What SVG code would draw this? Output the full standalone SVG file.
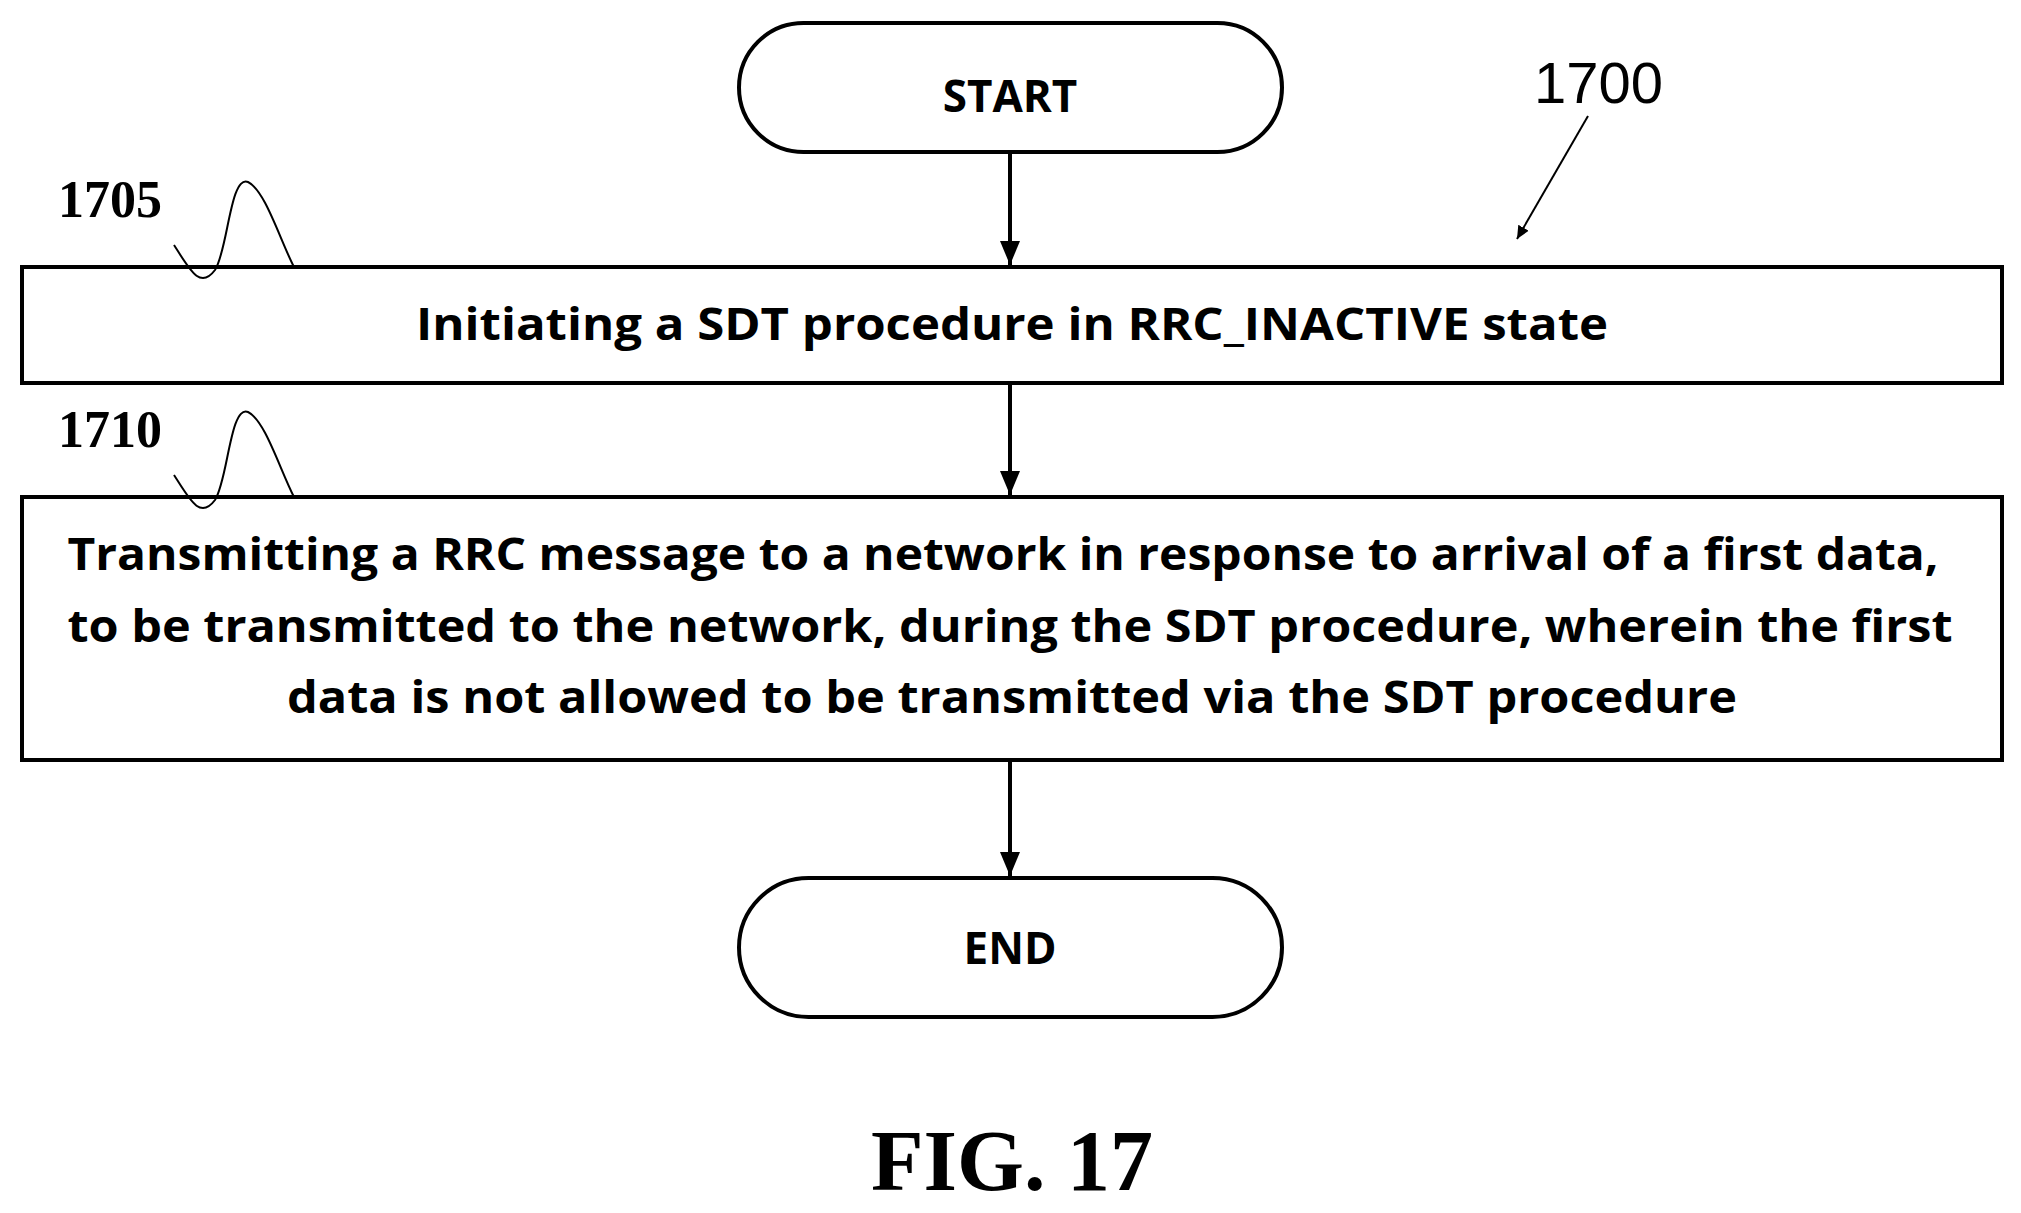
<svg xmlns="http://www.w3.org/2000/svg" width="2021" height="1213" viewBox="0 0 2021 1213">
<style>
.s{fill:none;stroke:#000;stroke-width:4}
.t{font-family:"Open Sans","Liberation Sans",sans-serif;font-weight:bold;font-size:44px;text-anchor:middle}
.r{font-family:"Liberation Serif",serif;font-weight:bold;font-size:52px}
.f{font-family:"Liberation Serif",serif;font-weight:bold;font-size:86px;text-anchor:middle}
.w{fill:none;stroke:#000;stroke-width:2}
</style>
<defs>
<marker id="b" markerWidth="14" markerHeight="14" refX="13" refY="7" orient="auto" markerUnits="userSpaceOnUse"><path d="M0,1 L13,7 L0,13 z"/></marker>
<marker id="c" markerWidth="26" markerHeight="22" refX="24" refY="11" orient="auto" markerUnits="userSpaceOnUse"><path d="M0,1 L24,11 L0,21 z"/></marker></defs>
<rect width="2021" height="1213" fill="#fff"/>
<g id="start"><rect class="s" x="739" y="23" width="543" height="129" rx="64.5"/><text class="t" x="1010" y="112">START</text></g>
<g id="n1705"><rect class="s" x="22" y="267" width="1980" height="116"/><text class="t" x="1012" y="340" textLength="1192" lengthAdjust="spacingAndGlyphs">Initiating a SDT procedure in RRC_INACTIVE state</text>
<text class="r" x="58" y="217">1705</text><path class="w" d="M174,245 C190,270 200,290 215,270 C228,250 230,175 248,182 C265,190 280,240 294,267"/></g>
<g id="n1710"><rect class="s" x="22" y="497" width="1980" height="263"/>
<text class="t" x="1003" y="570" textLength="1871" lengthAdjust="spacingAndGlyphs">Transmitting a RRC message to a network in response to arrival of a first data,</text>
<text class="t" x="1010" y="642" textLength="1885" lengthAdjust="spacingAndGlyphs">to be transmitted to the network, during the SDT procedure, wherein the first</text>
<text class="t" x="1012" y="713" textLength="1450" lengthAdjust="spacingAndGlyphs">data is not allowed to be transmitted via the SDT procedure</text>
<text class="r" x="58" y="447">1710</text><path class="w" d="M174,475 C190,500 200,520 215,500 C228,480 230,405 248,412 C265,420 280,470 294,497"/></g>
<g id="end"><rect class="s" x="739" y="878" width="543" height="139" rx="69.5"/><text class="t" x="1010" y="964">END</text></g>
<g id="connectors">
<line class="s" x1="1010" y1="152" x2="1010" y2="265" marker-end="url(#c)"/>
<line class="s" x1="1010" y1="383" x2="1010" y2="495" marker-end="url(#c)"/>
<line class="s" x1="1010" y1="760" x2="1010" y2="876" marker-end="url(#c)"/>
<line class="w" x1="1588" y1="116" x2="1517" y2="239" marker-end="url(#b)"/>
</g>
<text x="1534" y="103" font-family="Liberation Sans,sans-serif" font-size="58">1700</text>
<text class="f" x="1012" y="1190">FIG. 17</text>
</svg>
